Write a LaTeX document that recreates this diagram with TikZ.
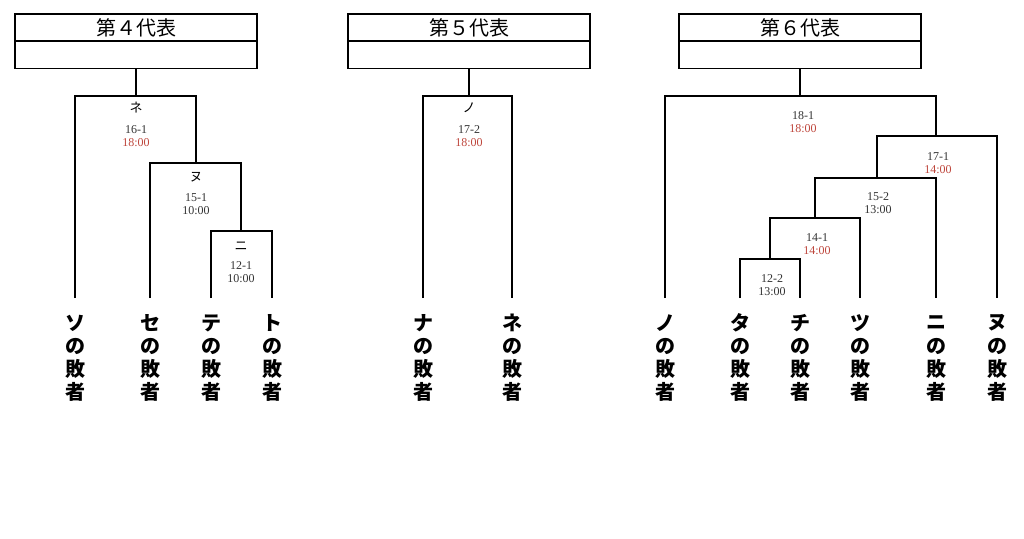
\documentclass[tikz,border=0pt]{standalone}
\usepackage{fontspec}
\setmainfont{Liberation Serif}
\newfontfamily\jp{Noto Sans CJK JP}
\definecolor{rd}{RGB}{190,70,60}
\begin{document}
\begin{tikzpicture}[x=1pt,y=-1pt,line width=2pt,
 hdr/.style={draw,line width=1.8pt,minimum width=242pt,minimum height=27pt,inner sep=0pt,font=\jp\fontsize{20}{20}\selectfont},
 num/.style={font=\fontsize{12}{12}\selectfont,text=black!80,inner sep=0pt},
 rt/.style={num,text=rd},
 kana/.style={font=\jp\fontsize{13}{13}\selectfont,inner sep=0pt},
 who/.style={font=\jp\bfseries\fontsize{20}{20}\selectfont,inner sep=0pt}]
\useasboundingbox (0,0) rectangle (1024,538);
\newcommand{\loser}[2]{\foreach \c [count=\i] in {#2,の,敗,者}
  \node[who] at (#1,300+23*\i) {\c};}
% panel 1
\node[hdr] (h4) at (136,27.5) {第４代表};
\node[hdr] (h4b) at (136,55) {};
\draw (136,69) -- (136,96);
\draw (75,298) -- (75,96) -- (196,96) -- (196,163);
\draw (150,298) -- (150,163) -- (241,163) -- (241,231);
\draw (211,298) -- (211,231) -- (272,231) -- (272,298);
\node[kana] at (136,108) {ネ};
\node[num] at (136,130) {16-1}; \node[rt] at (136,143) {18:00};
\node[kana] at (196,177) {ヌ};
\node[num] at (196,198) {15-1}; \node[num] at (196,211) {10:00};
\node[kana] at (241,246) {ニ};
\node[num] at (241,266) {12-1}; \node[num] at (241,279) {10:00};
\loser{75}{ソ}\loser{150}{セ}\loser{211}{テ}\loser{272}{ト}
% panel 2
\node[hdr] (h5) at (469,27.5) {第５代表};
\node[hdr] (h5b) at (469,55) {};
\draw (469,69) -- (469,96);
\draw (423,298) -- (423,96) -- (512,96) -- (512,298);
\node[kana] at (469,108) {ノ};
\node[num] at (469,130) {17-2}; \node[rt] at (469,143) {18:00};
\loser{423}{ナ}\loser{512}{ネ}
% panel 3
\node[hdr] (h6) at (800,27.5) {第６代表};
\node[hdr] (h6b) at (800,55) {};
\draw (800,69) -- (800,96);
\draw (665,298) -- (665,96) -- (936,96) -- (936,136);
\draw (877,178) -- (877,136) -- (997,136) -- (997,298);
\draw (815,218) -- (815,178) -- (936,178) -- (936,298);
\draw (770,259) -- (770,218) -- (860,218) -- (860,298);
\draw (740,298) -- (740,259) -- (800,259) -- (800,298);
\node[num] at (803,116) {18-1}; \node[rt] at (803,129) {18:00};
\node[num] at (938,157) {17-1}; \node[rt] at (938,170) {14:00};
\node[num] at (878,197) {15-2}; \node[num] at (878,210) {13:00};
\node[num] at (817,238) {14-1}; \node[rt] at (817,251) {14:00};
\node[num] at (772,279) {12-2}; \node[num] at (772,292) {13:00};
\loser{665}{ノ}\loser{740}{タ}\loser{800}{チ}\loser{860}{ツ}\loser{936}{ニ}\loser{997}{ヌ}
\end{tikzpicture}
\end{document}
